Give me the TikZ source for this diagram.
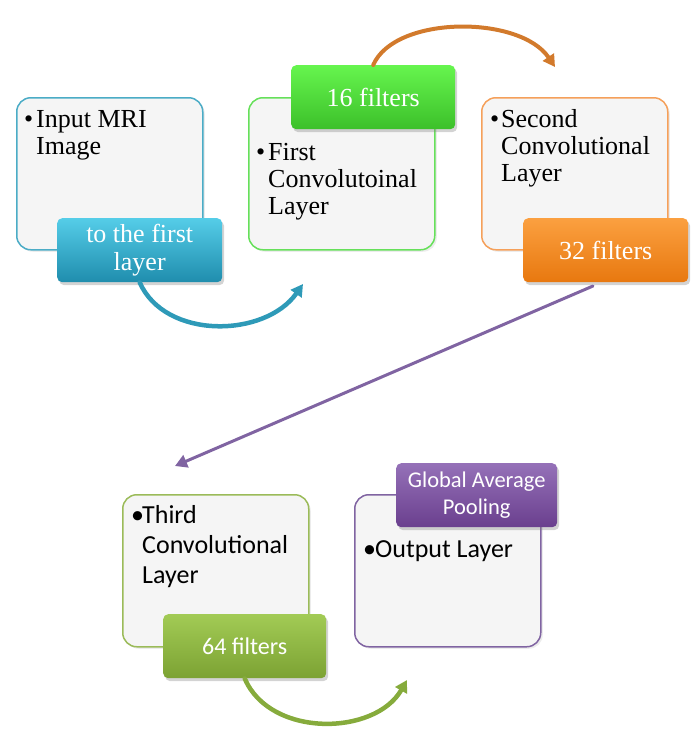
\documentclass[tikz,border=0pt]{standalone}
\usepackage{fontspec}
\setmainfont{Liberation Serif}
\newfontfamily\carlito{Carlito}
\usetikzlibrary{arrows.meta,shadows}
\definecolor{panelfill}{HTML}{F5F5F5}
\definecolor{inblue}{HTML}{4BACC6}
\definecolor{tabblueT}{HTML}{55CDE8}
\definecolor{tabblueB}{HTML}{1F8DAD}
\definecolor{arrblue}{HTML}{2E9AB8}
\definecolor{grnborder}{HTML}{66E05A}
\definecolor{tabgrnT}{HTML}{66F54E}
\definecolor{tabgrnB}{HTML}{3CC02A}
\definecolor{arrorange}{HTML}{D27A2C}
\definecolor{orborder}{HTML}{F5A05A}
\definecolor{taborT}{HTML}{FBA040}
\definecolor{taborB}{HTML}{E8780F}
\definecolor{purple1}{HTML}{8064A2}
\definecolor{olborder}{HTML}{9BBB59}
\definecolor{tabolT}{HTML}{A2CB55}
\definecolor{tabolB}{HTML}{7CA233}
\definecolor{arrolive}{HTML}{86AB3C}
\definecolor{tabpuT}{HTML}{9571B8}
\definecolor{tabpuB}{HTML}{6A3F8E}
\begin{document}
\begin{tikzpicture}[x=1pt,y=-1pt,
  panel/.style={line width=1.5pt, rounded corners=14pt, fill=panelfill, anchor=north west,
    minimum width=186pt, minimum height=152pt,
    drop shadow={opacity=0.15, shadow xshift=2pt, shadow yshift=-2pt}},
  tabbox/.style={rounded corners=5pt, anchor=north west, minimum height=64pt, text=white,
    align=center, drop shadow={opacity=0.35, shadow xshift=2pt, shadow yshift=-3pt}},
  serif26/.style={font=\fontsize{26}{27}\selectfont, inner sep=0pt, anchor=base west},
  sans26/.style={font=\carlito\fontsize{26}{30}\selectfont, inner sep=0pt, anchor=base west},
  flow/.style={line cap=round, -{Triangle[length=12pt,width=13pt]}}
]
\useasboundingbox (0,0) rectangle (693,729);

% top row
\node[panel, draw=inblue] (inbox) at (16,97) {};
\node[panel, draw=grnborder] (firstbox) at (248,97) {};
\node[panel, draw=orborder] (secondbox) at (481,97) {};

\node[serif26] (inbul) at (24,127) {•};
\node[serif26] (intxt) at (36,127) {\parbox[t]{160pt}{Input MRI\\Image}};
\node[serif26] (firstbul) at (256,160) {•};
\node[serif26] (firsttxt) at (268,160) {\parbox[t]{165pt}{First\\Convolutoinal\\Layer}};
\node[serif26] (secbul) at (490,127) {•};
\node[serif26] (sectxt) at (501,127) {\parbox[t]{170pt}{Second\\Convolutional\\Layer}};

\node[tabbox, top color=tabblueT, bottom color=tabblueB, minimum width=165pt,
  font=\fontsize{26}{28}\selectfont] (tab1) at (57,218) {to the first\\layer};
\node[tabbox, top color=tabgrnT, bottom color=tabgrnB, minimum width=164pt,
  font=\fontsize{26}{28}\selectfont] (tab2) at (291,65) {16 filters};
\node[tabbox, top color=taborT, bottom color=taborB, minimum width=165pt,
  font=\fontsize{26}{28}\selectfont] (tab3) at (523,218) {32 filters};

% bottom row
\node[panel, draw=olborder] (thirdbox) at (122,494) {};
\node[panel, draw=purple1] (outbox) at (354,494) {};

\node[sans26] (thirdbul) at (131,523) {•};
\node[sans26] (thirdtxt) at (142,523) {\parbox[t]{165pt}{Third\\Convolutional\\Layer}};
\node[sans26] (outbul) at (363,557) {•};
\node[sans26] (outtxt) at (375,557) {Output Layer};

\node[tabbox, top color=tabolT, bottom color=tabolB, minimum width=163pt,
  font=\carlito\fontsize{24}{28}\selectfont] (tab4) at (163,614) {64 filters};
\node[tabbox, top color=tabpuT, bottom color=tabpuB, minimum width=161pt,
  font=\carlito\fontsize{22.5}{26.5}\selectfont] (tab5) at (396,463) {Global Average\\Pooling};

% connectors
\coordinate (blueend) at (303,284);
\coordinate (orangeend) at (555,67);
\coordinate (purstart) at (593,286);
\coordinate (purend) at (175,466);
\coordinate (greenend) at (407,680);

\draw[flow, draw=arrblue, line width=4.5pt]
  (tab1.south) .. controls (165,340) and (265,338) .. (blueend);
\draw[flow, draw=arrorange, line width=4pt]
  (tab2.north) .. controls (395,15) and (520,15) .. (orangeend);
\draw[flow, draw=purple1, line width=3pt] (purstart) -- (purend);
\draw[flow, draw=arrolive, line width=4.5pt]
  (tab4.south) .. controls (270,738) and (375,736) .. (greenend);
\end{tikzpicture}
\end{document}
